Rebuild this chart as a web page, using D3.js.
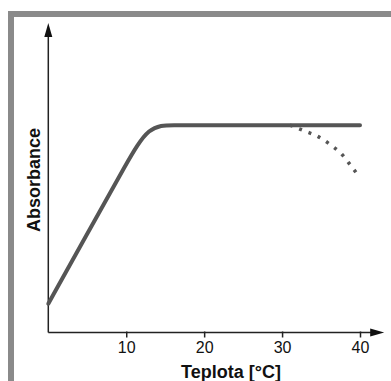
<!DOCTYPE html>
<html>
<head>
<meta charset="utf-8">
<script src="https://cdn.jsdelivr.net/npm/d3@7"></script>
<style>
  html, body { margin: 0; padding: 0; background: #fff; }
  svg { display: block; }
  text { font-family: "Liberation Sans", Arial, sans-serif; fill: #111; }
</style>
</head>
<body>
<svg id="chart" width="391" height="381"></svg>
<script>
// ─── Data ─────────────────────────────────────────────────────────────────────
const xTicks    = [10, 20, 30, 40];
const mainTemp  = [0, 5, 10, 12.9, 16, 20, 30, 40];
const mainAbs   = [9.3, 31.9, 54.5, 67, 67, 67, 67, 67];
const dropTemp  = [31, 32.9, 34.7, 36.2, 37.7, 38.8, 40];
const dropAbs   = [67, 65.1, 63.2, 60.7, 57.5, 54.0, 50.0];
const xLabel    = 'Teplota [°C]';
const yLabel    = 'Absorbance';

// ─── Layout ───────────────────────────────────────────────────────────────────
const W = 391, H = 381;
const svg = d3.select('#chart');

const x = d3.scaleLinear().domain([0, 40]).range([48.3, 360]);
const y = d3.scaleLinear().domain([0, 100]).range([332.5, 23]);
const xEnd = 43.1;   // axis runs past the last tick, to the arrow tip

// ── Grey frame (scan border) ──────────────────────────────────────────────────
svg.append('rect').attr('x', 8).attr('y', 11).attr('width', W - 8).attr('height', 6).attr('fill', '#8a8a8a');
svg.append('rect').attr('x', 8).attr('y', 11).attr('width', 6).attr('height', H - 11).attr('fill', '#8a8a8a');

// ── Axes ──────────────────────────────────────────────────────────────────────
const ax = svg.append('g');

ax.append('line')
  .attr('x1', x(0)).attr('x2', x(xEnd) - 8)
  .attr('y1', y(0)).attr('y2', y(0))
  .attr('stroke', '#222').attr('stroke-width', 1.5);
ax.append('line')
  .attr('x1', x(0)).attr('x2', x(0))
  .attr('y1', y(0)).attr('y2', y(100) + 10)
  .attr('stroke', '#222').attr('stroke-width', 1.5);

// arrow heads
const xt = x(xEnd), yt = y(100);
ax.append('path')
  .attr('d', `M${xt},${y(0)} L${xt - 14},${y(0) - 4} L${xt - 14},${y(0) + 4} Z`)
  .attr('fill', '#111');
ax.append('path')
  .attr('d', `M${x(0)},${yt} L${x(0) - 4},${yt + 14} L${x(0) + 4},${yt + 14} Z`)
  .attr('fill', '#111');

const xAxis = d3.axisBottom(x).tickValues(xTicks).tickSize(5).tickPadding(4);
const gx = svg.append('g').attr('transform', `translate(0,${y(0)})`).call(xAxis);
gx.select('.domain').remove();
gx.selectAll('.tick line').attr('stroke', '#222').attr('stroke-width', 1.5).attr('y1', -1);
gx.selectAll('.tick text')
  .attr('font-size', 16).attr('fill', '#111')
  .style('font-family', '"Liberation Sans", Arial, sans-serif');

// ── Axis titles ───────────────────────────────────────────────────────────────
svg.append('text')
  .attr('x', 231).attr('y', 378)
  .attr('text-anchor', 'middle')
  .attr('font-size', 18).attr('font-weight', 'bold')
  .text(xLabel);

svg.append('text')
  .attr('transform', `translate(40,180) rotate(-90)`)
  .attr('text-anchor', 'middle')
  .attr('font-size', 18).attr('font-weight', 'bold')
  .text(yLabel);

// ── Curves ────────────────────────────────────────────────────────────────────
const smooth = d3.line().x(d => x(d[0])).y(d => y(d[1])).curve(d3.curveBasis);
const mono   = d3.line().x(d => x(d[0])).y(d => y(d[1])).curve(d3.curveMonotoneX);

svg.append('path')
  .datum(d3.zip(mainTemp, mainAbs))
  .attr('d', smooth)
  .attr('fill', 'none').attr('stroke', '#555').attr('stroke-width', 4)
  .attr('stroke-linecap', 'round');

svg.append('path')
  .datum(d3.zip(dropTemp, dropAbs))
  .attr('d', mono)
  .attr('fill', 'none').attr('stroke', '#555').attr('stroke-width', 3.5)
  .attr('stroke-dasharray', '3,7');
</script>
</body>
</html>
